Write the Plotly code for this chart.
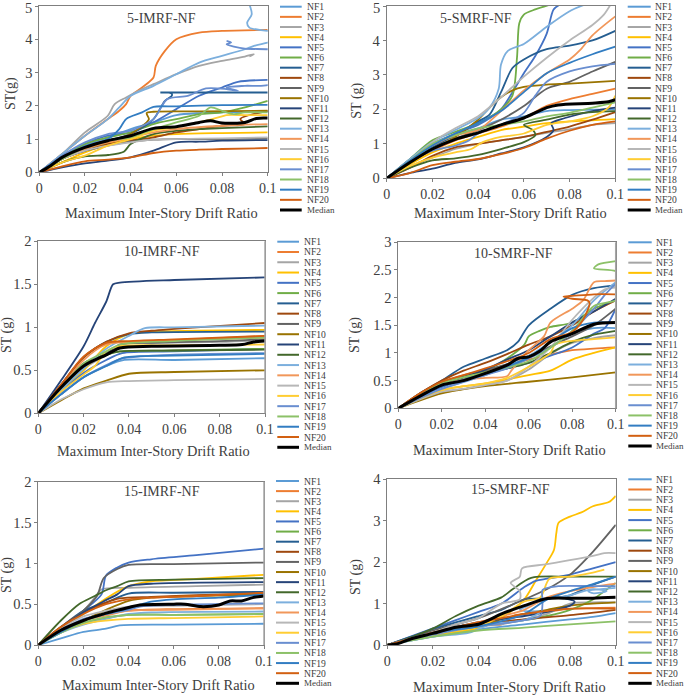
import plotly.graph_objects as go

W, H = 685, 695
NAMES = [f"NF{i}" for i in range(1, 21)] + ["Median"]
COLORS = ["#5B9BD5", "#ED7D31", "#A5A5A5", "#FFC000", "#4472C4", "#70AD47", "#255E91",
          "#9E480E", "#636363", "#997300", "#264478", "#43682B", "#7CAFDD", "#F1975A",
          "#B7B7B7", "#FFCD33", "#698ED0", "#8CC168", "#327DC2", "#D26012", "#000000"]

# ---------- 5-IMRF-NF ----------
P1_NF1 = [[0,0],[.01,.45],[.02,.8],[.03,1.05],[.04,1.3],[.05,1.5],[.06,1.72],[.07,1.78],[.08,1.8],[.1,1.82]]
P1_NF2 = [[0,0],[.01,.55],[.02,1.1],[.03,1.6],[.035,1.85],[.038,2.05],[.04,2.3],[.045,2.55],[.05,2.85],[.051,3.2],[.055,3.65],[.06,4.0],[.07,4.2],[.08,4.25],[.1,4.28]]
P1_NF3 = [[0,0],[.01,.55],[.02,1.2],[.03,1.7],[.033,2.05],[.038,2.25],[.045,2.5],[.05,2.65],[.06,2.95],[.07,3.2],[.08,3.35],[.09,3.48],[.094,3.55],[.092,3.48]]
P1_NF4 = [[0,0],[.01,.3],[.02,.6],[.03,.85],[.04,1.0],[.05,1.1],[.06,1.15],[.08,1.18],[.1,1.2]]
P1_NF5 = [[0,0],[.01,.5],[.02,.85],[.03,1.1],[.04,1.2],[.05,1.5],[.06,1.9],[.07,2.3],[.08,2.55],[.087,2.72],[.1,2.78]]
P1_NF6 = [[0,0],[.01,.45],[.02,.85],[.03,1.05],[.04,1.2],[.05,1.45],[.06,1.6],[.07,1.75],[.08,1.8],[.09,1.95],[.1,2.15]]
P1_NF7 = [[0,0],[.01,.45],[.02,.75],[.03,.95],[.04,1.15],[.05,1.6],[.055,2.15],[.058,2.3],[.058,2.36],[.056,2.4],[.053,2.4],[.07,2.4],[.1,2.4]]
P1_NF8 = [[0,0],[.01,.4],[.02,.65],[.03,.85],[.04,.95],[.05,1.05],[.06,1.2],[.07,1.3],[.08,1.4],[.09,1.45],[.088,1.6],[.1,1.85]]
P1_NF9 = [[0,0],[.01,.4],[.02,.65],[.03,.8],[.04,.92],[.05,.98],[.06,1.0],[.08,1.0],[.1,1.02]]
P1_NF10 = [[0,0],[.01,.4],[.02,.7],[.03,.9],[.04,1.15],[.047,1.5],[.048,1.6],[.047,1.78],[.05,1.82],[.07,1.83],[.1,1.85]]
P1_NF11 = [[0,0],[.01,.15],[.02,.27],[.03,.35],[.04,.45],[.05,.65],[.06,.9],[.07,.92],[.08,.95],[.1,.97]]
P1_NF12 = [[0,0],[.01,.3],[.02,.48],[.03,.52],[.037,.62],[.04,.85],[.05,1.15],[.06,1.25],[.07,1.3],[.08,1.33],[.1,1.38]]
P1_NF13 = [[0,0],[.01,.55],[.02,1.1],[.03,1.6],[.035,1.95],[.04,2.3],[.05,2.6],[.06,2.95],[.07,3.3],[.08,3.5],[.09,3.7],[.094,3.8],[.1,3.9],[.11,4.1],[.1,4.25],[.092,4.35],[.091,4.5],[.093,4.75],[.092,5.05]]
P1_NF14 = [[0,0],[.01,.4],[.02,.7],[.03,.9],[.04,1.05],[.05,1.2],[.06,1.3],[.08,1.4],[.1,1.45]]
P1_NF15 = [[0,0],[.01,.4],[.02,.65],[.03,.8],[.04,.9],[.05,.98],[.06,1.0],[.08,1.02],[.1,1.05]]
P1_NF16 = [[0,0],[.01,.3],[.02,.5],[.03,.8],[.04,1.0],[.05,1.25],[.06,1.35],[.07,1.5],[.08,1.68],[.082,1.72],[.09,1.72],[.1,1.72]]
P1_NF17 = [[0,0],[.01,.5],[.02,.9],[.03,1.15],[.04,1.25],[.05,1.6],[.056,2.2],[.065,2.3],[.073,2.52],[.082,2.5],[.087,2.45],[.082,2.55],[.09,2.6],[.1,2.62],[.11,3.0],[.11,3.6],[.1,3.7],[.09,3.72],[.082,3.85],[.084,3.9],[.082,3.95]]
P1_NF18 = [[0,0],[.01,.4],[.02,.75],[.03,.95],[.04,1.05],[.05,1.3],[.06,1.5],[.07,1.7],[.075,1.95],[.08,1.85],[.085,1.75],[.09,1.8],[.1,1.8]]
P1_NF19 = [[0,0],[.01,.45],[.02,.78],[.03,1.0],[.035,1.3],[.038,1.6],[.045,1.8],[.05,1.97],[.06,1.98],[.08,2.02],[.1,2.03]]
P1_NF20 = [[0,0],[.01,.18],[.02,.33],[.03,.38],[.04,.45],[.05,.58],[.06,.65],[.07,.68],[.08,.7],[.1,.73]]
P1_Median = [[0,0],[.005,.2],[.01,.45],[.02,.75],[.03,.95],[.04,1.1],[.05,1.32],[.06,1.37],[.07,1.5],[.075,1.55],[.08,1.48],[.09,1.5],[.095,1.62],[.1,1.63]]

# ---------- 5-SMRF-NF ----------
P2_NF1 = [[0,0],[.01,.5],[.02,.95],[.03,1.25],[.04,1.45],[.05,1.7],[.06,1.8],[.07,1.95],[.08,1.98],[.1,2.0]]
P2_NF2 = [[0,0],[.01,.45],[.02,.8],[.03,1.1],[.04,1.3],[.05,1.5],[.06,1.75],[.07,2.1],[.08,2.3],[.09,2.45],[.1,2.6]]
P2_NF3 = [[0,0],[.01,.35],[.02,.6],[.03,.85],[.04,1.0],[.05,1.1],[.06,1.2],[.07,1.32],[.08,1.42],[.09,1.55],[.1,1.6]]
P2_NF4 = [[0,0],[.01,.4],[.02,.75],[.03,1.0],[.04,1.2],[.05,1.4],[.06,1.5],[.07,1.6],[.08,1.65],[.1,1.72]]
P2_NF5 = [[0,0],[.01,.55],[.02,1.0],[.03,1.3],[.04,1.55],[.05,2.0],[.055,2.5],[.06,3.05],[.065,3.55],[.07,4.2],[.073,4.9],[.076,5.05]]
P2_NF6 = [[0,0],[.01,.55],[.02,1.1],[.03,1.35],[.04,1.6],[.05,2.0],[.055,2.4],[.057,3.5],[.058,4.5],[.06,4.75],[.065,4.9],[.072,5.05]]
P2_NF7 = [[0,0],[.01,.5],[.02,.9],[.03,1.25],[.04,1.65],[.045,1.85],[.05,2.5],[.055,3.2],[.06,3.45],[.07,3.75],[.08,3.85],[.09,4.0],[.1,4.28]]
P2_NF8 = [[0,0],[.01,.3],[.02,.65],[.03,.9],[.04,1.0],[.05,1.1],[.06,1.2],[.07,1.35],[.08,1.5],[.09,1.7],[.1,1.92]]
P2_NF9 = [[0,0],[.01,.45],[.02,.85],[.03,1.15],[.04,1.4],[.05,1.7],[.06,2.1],[.07,2.6],[.08,2.8],[.09,3.1],[.1,3.38]]
P2_NF10 = [[0,0],[.01,.45],[.02,.85],[.03,1.2],[.04,1.7],[.045,2.05],[.05,2.35],[.055,2.55],[.06,2.65],[.07,2.72],[.08,2.75],[.1,2.83]]
P2_NF11 = [[0,0],[.01,.15],[.02,.28],[.03,.45],[.04,.55],[.05,.72],[.06,.9],[.07,1.2],[.073,1.4],[.072,1.6],[.078,1.75],[.09,1.95],[.1,2.05]]
P2_NF12 = [[0,0],[.01,.3],[.02,.52],[.03,.58],[.04,.68],[.05,.85],[.06,1.05],[.065,1.25],[.064,1.4],[.06,1.55],[.07,1.7],[.08,1.85],[.09,1.92],[.1,1.95]]
P2_NF13 = [[0,0],[.01,.55],[.02,1.05],[.03,1.4],[.04,1.75],[.045,2.05],[.049,2.6],[.05,3.3],[.053,3.7],[.06,3.9],[.07,4.4],[.08,4.85],[.087,5.05]]
P2_NF14 = [[0,0],[.01,.5],[.02,.95],[.03,1.25],[.04,1.4],[.05,1.95],[.06,2.55],[.07,3.05],[.08,3.45],[.085,3.75],[.09,4.15],[.1,4.7]]
P2_NF15 = [[0,0],[.01,.5],[.02,1.05],[.03,1.45],[.04,1.8],[.05,2.35],[.06,2.95],[.07,3.5],[.08,4.0],[.09,4.45],[.095,4.75],[.098,5.05]]
P2_NF16 = [[0,0],[.01,.35],[.02,.6],[.03,.75],[.037,.85],[.042,1.05],[.05,1.2],[.06,1.3],[.07,1.55],[.08,1.65],[.09,1.8],[.097,2.05],[.1,2.4]]
P2_NF17 = [[0,0],[.01,.5],[.02,.8],[.03,.95],[.036,1.1],[.04,1.3],[.05,1.55],[.06,1.9],[.065,2.4],[.07,2.8],[.08,3.1],[.09,3.25],[.1,3.32]]
P2_NF18 = [[0,0],[.01,.5],[.02,1.0],[.03,1.25],[.04,1.45],[.05,1.55],[.06,1.65],[.07,1.8],[.08,1.9],[.09,2.05],[.1,2.2]]
P2_NF19 = [[0,0],[.01,.5],[.02,.95],[.03,1.3],[.04,1.6],[.05,1.95],[.06,2.5],[.07,3.05],[.08,3.35],[.09,3.6],[.1,3.82]]
P2_NF20 = [[0,0],[.01,.15],[.02,.38],[.03,.48],[.04,.56],[.05,.7],[.06,.88],[.07,1.15],[.08,1.38],[.09,1.55],[.1,1.65]]
P2_Median = [[0,0],[.01,.45],[.02,.85],[.03,1.13],[.04,1.32],[.05,1.55],[.06,1.75],[.07,2.05],[.075,2.13],[.09,2.18],[.097,2.22],[.1,2.28]]

# ---------- 10-IMRF-NF ----------
P3_NF1 = [[0,0],[.01,.22],[.02,.42],[.03,.55],[.038,.62],[.06,.62],[.1,.64]]
P3_NF2 = [[0,0],[.01,.32],[.02,.65],[.03,.82],[.04,.83],[.06,.85],[.1,.9]]
P3_NF3 = [[0,0],[.01,.27],[.02,.52],[.03,.68],[.036,.8],[.05,.82],[.08,.83],[.1,.85]]
P3_NF4 = [[0,0],[.01,.27],[.02,.5],[.03,.78],[.04,.92],[.05,.95],[.07,.96],[.1,.97]]
P3_NF5 = [[0,0],[.01,.25],[.02,.47],[.03,.62],[.037,.7],[.06,.72],[.1,.75]]
P3_NF6 = [[0,0],[.01,.27],[.02,.55],[.03,.68],[.036,.72],[.06,.73],[.1,.75]]
P3_NF7 = [[0,0],[.01,.33],[.02,.65],[.03,.83],[.04,.92],[.05,.94],[.1,.95]]
P3_NF8 = [[0,0],[.01,.33],[.02,.65],[.03,.83],[.04,.93],[.05,.96],[.07,1.0],[.1,1.05]]
P3_NF9 = [[0,0],[.01,.3],[.02,.55],[.03,.7],[.036,.8],[.05,.82],[.08,.84],[.1,.86]]
P3_NF10 = [[0,0],[.01,.15],[.02,.29],[.03,.38],[.04,.46],[.06,.48],[.1,.5]]
P3_NF11 = [[0,0],[.01,.38],[.02,.78],[.025,1.05],[.03,1.3],[.033,1.5],[.036,1.52],[.06,1.55],[.1,1.58]]
P3_NF12 = [[0,0],[.01,.3],[.02,.58],[.03,.68],[.036,.72],[.06,.73],[.1,.74]]
P3_NF13 = [[0,0],[.01,.27],[.02,.52],[.03,.75],[.04,.9],[.047,.99],[.06,1.0],[.1,1.02]]
P3_NF14 = [[0,0],[.01,.3],[.02,.62],[.03,.8],[.04,.83],[.06,.85],[.1,.88]]
P3_NF15 = [[0,0],[.01,.16],[.02,.28],[.03,.36],[.04,.375],[.06,.385],[.1,.4]]
P3_NF16 = [[0,0],[.01,.25],[.02,.45],[.025,.55],[.03,.72],[.036,.78],[.06,.79],[.1,.8]]
P3_NF17 = [[0,0],[.01,.22],[.02,.42],[.03,.56],[.036,.63],[.05,.67],[.1,.7]]
P3_NF18 = [[0,0],[.01,.3],[.02,.58],[.03,.72],[.036,.8],[.06,.84],[.1,.88]]
P3_NF19 = [[0,0],[.01,.22],[.02,.42],[.03,.55],[.038,.65],[.06,.67],[.1,.69]]
P3_NF20 = [[0,0],[.01,.33],[.02,.66],[.03,.82],[.04,.84],[.06,.86],[.1,.9]]
P3_Median = [[0,0],[.01,.3],[.02,.55],[.03,.68],[.036,.76],[.05,.78],[.08,.79],[.09,.8],[.095,.83],[.1,.84]]

# ---------- 10-SMRF-NF ----------
P4_NF1 = [[0,0],[.02,.4],[.04,.65],[.06,.95],[.07,1.1],[.08,1.35],[.09,1.45],[.1,1.45]]
P4_NF2 = [[0,0],[.01,.25],[.02,.45],[.03,.6],[.04,.68],[.05,.78],[.06,.88],[.07,.97],[.08,1.05],[.09,1.08],[.1,1.1]]
P4_NF3 = [[0,0],[.01,.17],[.02,.28],[.03,.35],[.04,.42],[.05,.5],[.06,.7],[.07,.98],[.08,1.18],[.09,1.27],[.1,1.32]]
P4_NF4 = [[0,0],[.02,.33],[.03,.4],[.04,.45],[.05,.52],[.06,.6],[.07,.68],[.08,.88],[.09,1.0],[.1,1.1]]
P4_NF5 = [[0,0],[.02,.38],[.04,.62],[.06,.82],[.07,.95],[.08,1.1],[.09,1.35],[.095,1.45],[.1,1.8]]
P4_NF6 = [[0,0],[.02,.45],[.04,.68],[.05,.9],[.058,1.15],[.06,1.3],[.065,1.4],[.07,1.47],[.08,1.55],[.09,1.8],[.1,1.95]]
P4_NF7 = [[0,0],[.01,.27],[.02,.5],[.03,.75],[.04,.9],[.05,1.05],[.055,1.2],[.06,1.5],[.07,1.8],[.08,2.05],[.09,2.17],[.1,2.22]]
P4_NF8 = [[0,0],[.01,.27],[.02,.5],[.03,.68],[.04,.82],[.05,.98],[.06,1.15],[.07,1.3],[.08,1.5],[.09,1.75],[.1,1.95]]
P4_NF9 = [[0,0],[.02,.42],[.04,.68],[.06,.92],[.07,1.12],[.08,1.3],[.09,1.5],[.1,1.8]]
P4_NF10 = [[0,0],[.02,.27],[.04,.4],[.06,.48],[.08,.56],[.1,.65]]
P4_NF11 = [[0,0],[.02,.42],[.04,.7],[.05,.88],[.06,1.05],[.07,1.3],[.08,1.55],[.09,1.75],[.1,1.98]]
P4_NF12 = [[0,0],[.02,.45],[.04,.65],[.05,.72],[.06,.82],[.07,1.0],[.08,1.2],[.09,1.33],[.1,1.4]]
P4_NF13 = [[0,0],[.02,.35],[.04,.6],[.06,.95],[.07,1.2],[.08,1.5],[.09,1.95],[.1,2.28]]
P4_NF14 = [[0,0],[.01,.25],[.02,.42],[.03,.52],[.04,.55],[.05,.58],[.052,.68],[.06,1.05],[.067,1.3],[.07,1.55],[.08,1.8],[.085,1.95],[.09,2.28],[.095,2.3],[.1,2.31]]
P4_NF15 = [[0,0],[.02,.3],[.03,.35],[.04,.42],[.05,.5],[.06,.75],[.07,1.1],[.08,1.6],[.09,2.0],[.095,2.15],[.1,2.18]]
P4_NF16 = [[0,0],[.02,.33],[.04,.45],[.05,.55],[.06,.75],[.07,1.0],[.072,1.15],[.08,1.22],[.09,1.25],[.1,1.28]]
P4_NF17 = [[0,0],[.02,.35],[.04,.6],[.05,.72],[.06,.9],[.07,1.1],[.08,1.4],[.09,1.8],[.095,2.05],[.1,2.25]]
P4_NF18 = [[0,0],[.02,.45],[.04,.65],[.06,.85],[.07,1.1],[.08,1.4],[.09,1.85],[.1,1.95],[.11,2.3],[.1,2.48],[.09,2.53],[.092,2.6],[.1,2.66]]
P4_NF19 = [[0,0],[.02,.4],[.04,.62],[.06,.92],[.07,1.2],[.08,1.45],[.09,1.55],[.1,1.55]]
P4_NF20 = [[0,0],[.01,.27],[.02,.48],[.03,.6],[.04,.72],[.05,.85],[.06,1.0],[.07,1.25],[.08,1.38],[.085,1.6],[.088,1.9],[.087,1.95],[.08,1.98],[.076,2.02],[.08,2.03],[.09,2.06],[.1,2.06]]
P4_Median = [[0,0],[.01,.22],[.02,.42],[.03,.5],[.04,.63],[.05,.78],[.055,.9],[.06,.93],[.065,1.03],[.07,1.2],[.08,1.35],[.09,1.52],[.1,1.55]]

# ---------- 15-IMRF-NF ----------
P5_NF1 = [[0,0],[.01,.08],[.02,.16],[.03,.2],[.036,.24],[.06,.25],[.1,.26]]
P5_NF2 = [[0,0],[.01,.17],[.02,.3],[.03,.37],[.04,.42],[.06,.44],[.1,.45]]
P5_NF3 = [[0,0],[.01,.2],[.02,.42],[.025,.58],[.028,.68],[.04,.7],[.07,.72],[.1,.74]]
P5_NF4 = [[0,0],[.01,.2],[.02,.38],[.03,.57],[.04,.72],[.05,.78],[.07,.81],[.1,.86]]
P5_NF5 = [[0,0],[.01,.2],[.02,.42],[.028,.62],[.03,.85],[.035,.95],[.04,1.01],[.05,1.05],[.07,1.1],[.1,1.18]]
P5_NF6 = [[0,0],[.01,.15],[.02,.27],[.03,.33],[.04,.37],[.06,.37],[.1,.38]]
P5_NF7 = [[0,0],[.01,.22],[.02,.42],[.03,.52],[.04,.63],[.06,.64],[.1,.65]]
P5_NF8 = [[0,0],[.01,.22],[.02,.4],[.03,.52],[.036,.57],[.05,.59],[.07,.61],[.1,.63]]
P5_NF9 = [[0,0],[.01,.2],[.02,.42],[.026,.6],[.029,.82],[.035,.93],[.04,.98],[.06,.99],[.1,1.01]]
P5_NF10 = [[0,0],[.01,.18],[.02,.3],[.03,.43],[.04,.54],[.05,.58],[.07,.6],[.1,.62]]
P5_NF11 = [[0,0],[.01,.2],[.02,.4],[.03,.55],[.035,.62],[.04,.72],[.05,.75],[.1,.77]]
P5_NF12 = [[0,0],[.01,.3],[.018,.5],[.025,.6],[.03,.67],[.035,.72],[.04,.78],[.06,.8],[.1,.82]]
P5_NF13 = [[0,0],[.01,.15],[.02,.25],[.03,.32],[.04,.38],[.05,.4],[.1,.41]]
P5_NF14 = [[0,0],[.01,.17],[.02,.3],[.03,.36],[.04,.42],[.06,.43],[.1,.45]]
P5_NF15 = [[0,0],[.01,.2],[.02,.35],[.03,.42],[.04,.47],[.06,.48],[.1,.5]]
P5_NF16 = [[0,0],[.01,.16],[.02,.26],[.03,.3],[.04,.32],[.06,.33],[.1,.35]]
P5_NF17 = [[0,0],[.01,.18],[.02,.32],[.03,.38],[.04,.43],[.045,.47],[.06,.49],[.1,.51]]
P5_NF18 = [[0,0],[.01,.15],[.02,.27],[.03,.34],[.04,.37],[.06,.37],[.1,.38]]
P5_NF19 = [[0,0],[.02,.3],[.03,.38],[.04,.45],[.05,.53],[.06,.56],[.08,.58],[.1,.62]]
P5_NF20 = [[0,0],[.01,.22],[.02,.38],[.03,.5],[.04,.56],[.05,.58],[.07,.6],[.1,.64]]
P5_Median = [[0,0],[.01,.18],[.02,.3],[.03,.39],[.04,.46],[.045,.49],[.06,.5],[.065,.5],[.072,.47],[.08,.49],[.085,.54],[.09,.54],[.095,.58],[.1,.6]]

# ---------- 15-SMRF-NF ----------
P6_NF1 = [[0,0],[.02,.2],[.04,.38],[.06,.5],[.08,.62],[.09,.68],[.1,.77]]
P6_NF2 = [[0,0],[.02,.3],[.04,.5],[.05,.5],[.055,.7],[.06,.75],[.07,.8],[.08,.87],[.1,.9]]
P6_NF3 = [[0,0],[.02,.22],[.04,.45],[.05,.5],[.06,.62],[.07,.75],[.08,1.0],[.09,1.03],[.1,1.03]]
P6_NF4 = [[0,0],[.02,.25],[.04,.4],[.05,.65],[.055,.85],[.06,1.1],[.065,1.55],[.07,2.0],[.073,2.3],[.074,2.7],[.075,2.95],[.08,3.1],[.085,3.2],[.09,3.35],[.097,3.45],[.1,3.6]]
P6_NF5 = [[0,0],[.02,.4],[.03,.6],[.04,.8],[.05,1.0],[.06,1.4],[.065,1.55],[.07,1.6],[.08,1.7],[.09,1.85],[.1,2.0]]
P6_NF6 = [[0,0],[.02,.25],[.04,.45],[.06,.6],[.07,.7],[.08,.85],[.09,1.1],[.095,1.3],[.1,1.5]]
P6_NF7 = [[0,0],[.02,.38],[.04,.7],[.05,.85],[.06,1.1],[.07,1.12],[.08,1.2],[.09,1.45],[.1,1.65]]
P6_NF8 = [[0,0],[.02,.3],[.04,.5],[.06,.62],[.08,.72],[.1,.85]]
P6_NF9 = [[0,0],[.02,.35],[.04,.65],[.06,1.1],[.07,1.35],[.08,1.7],[.09,2.25],[.1,2.9]]
P6_NF10 = [[0,0],[.02,.28],[.04,.48],[.05,.62],[.06,.75],[.07,.85],[.08,.95],[.09,1.0],[.1,1.03]]
P6_NF11 = [[0,0],[.02,.3],[.04,.55],[.06,.7],[.07,.8],[.08,.95],[.082,1.05],[.078,1.12]]
P6_NF12 = [[0,0],[.01,.18],[.02,.4],[.03,.7],[.04,.95],[.05,1.15],[.055,1.35],[.063,1.62],[.08,1.65],[.1,1.65]]
P6_NF13 = [[0,0],[.02,.2],[.036,.3],[.045,.5],[.06,.6],[.067,.8],[.06,.82],[.058,.85],[.07,1.1],[.08,1.2],[.09,1.35],[.096,1.3],[.09,1.25],[.088,1.3],[.1,1.38]]
P6_NF14 = [[0,0],[.02,.3],[.04,.55],[.05,.7],[.06,.85],[.07,1.15],[.08,1.3],[.09,1.4],[.1,1.48]]
P6_NF15 = [[0,0],[.02,.3],[.03,.5],[.04,.65],[.05,1.0],[.058,1.1],[.058,1.3],[.054,1.5],[.058,1.65],[.059,1.85],[.07,1.95],[.09,2.15],[.095,2.22],[.1,2.22]]
P6_NF16 = [[0,0],[.02,.25],[.04,.45],[.05,.7],[.06,1.05],[.067,1.15],[.071,1.6],[.08,1.65],[.09,1.75],[.095,1.82]]
P6_NF17 = [[0,0],[.02,.25],[.04,.45],[.055,.55],[.06,.6],[.067,.7],[.068,1.05],[.068,1.33],[.075,1.42],[.09,1.42],[.1,1.42]]
P6_NF18 = [[0,0],[.02,.2],[.04,.35],[.06,.42],[.08,.5],[.1,.57]]
P6_NF19 = [[0,0],[.02,.3],[.04,.45],[.06,.75],[.07,1.1],[.08,1.3],[.09,1.47],[.1,1.65]]
P6_NF20 = [[0,0],[.02,.3],[.04,.55],[.05,.65],[.06,.75],[.07,.82],[.08,.88],[.1,.88]]
P6_Median = [[0,0],[.005,.04],[.01,.14],[.02,.28],[.03,.43],[.04,.5],[.045,.62],[.05,.75],[.06,.95],[.07,1.12],[.08,1.13],[.09,1.13],[.1,1.15]]

X_TICKS = [0, .02, .04, .06, .08, .1]
X_LABELS = ["0", "0.02", "0.04", "0.06", "0.08", "0.1"]
PANELS = [
    dict(tag="P1", title="5-IMRF-NF", ylab="ST(g)", ymax=5, yticks=[0,1,2,3,4,5], ylabels=["0","1","2","3","4",""], toplabel="5",
         box=(39.3,267.7,6,172.3), tp=(161,18), xt=(161.7,213), yt=(11,94), leg=(280,301.7,305,6.7,210), rail=False),
    dict(tag="P2", title="5-SMRF-NF", ylab="ST (g)", ymax=5, yticks=[0,1,2,3,4,5], ylabels=["0","1","2","3","4",""], toplabel="5",
         box=(386.7,615.3,6,178.3), tp=(476,18), xt=(510.5,213), yt=(356.7,101), leg=(627.7,650.7,653.3,6.7,210), rail=False),
    dict(tag="P3", title="10-IMRF-NF", ylab="ST (g)", ymax=2, yticks=[0,.5,1,1.5,2], ylabels=["0","0.5","1","1.5","2"],
         box=(38.3,265,241.3,413.3), tp=(162,251.7), xt=(153.7,450.7), yt=(7,335), leg=(277.3,299,302,241.7,447.3), rail=True),
    dict(tag="P4", title="10-SMRF-NF", ylab="ST (g)", ymax=3, yticks=[0,.5,1,1.5,2,2.5,3], ylabels=["0","0.5","1","1.5","2","2.5","3"],
         box=(398.3,615.7,242.3,408.3), tp=(513.8,253), xt=(509.7,450), yt=(355,335), leg=(628.3,651.7,653.7,242.3,446), rail=True),
    dict(tag="P5", title="15-IMRF-NF", ylab="ST (g)", ymax=2, yticks=[0,.5,1,1.5,2], ylabels=["0","0.5","1","1.5","2"],
         box=(38.3,264,481.7,645), tp=(161.8,491.7), xt=(158.7,685), yt=(7,575), leg=(276,299,302,481,683.3), rail=True),
    dict(tag="P6", title="15-SMRF-NF", ylab="ST (g)", ymax=4, yticks=[0,1,2,3,4], ylabels=["0","1","2","3","4"],
         box=(387.3,615.7,479.3,645), tp=(510.5,490), xt=(509,686.7), yt=(356,577), leg=(628.3,651.7,653.7,479.3,683.3), rail=False),
]

SERIF = "Liberation Serif"
TXT = "#404040"
AXIS = "#7F7F7F"
fig = go.Figure()
layout = {}
annotations, shapes = [], []


def note(x, y, text, size, anchor="center", angle=0):
    annotations.append(dict(xref="paper", yref="paper", x=x / W, y=1 - y / H, text=text, showarrow=False,
                            xanchor=anchor, yanchor="middle", textangle=angle,
                            font=dict(family=SERIF, size=size, color=TXT)))


for i, p in enumerate(PANELS, start=1):
    xn, yn = f"x{i}", f"y{i}"
    for name, color in zip(NAMES, COLORS):
        pts = globals()[f"{p['tag']}_{name}"]
        median = name == "Median"
        fig.add_trace(go.Scatter(x=[a for a, _ in pts], y=[b for _, b in pts], mode="lines", name=name,
                                 xaxis=xn, yaxis=yn, showlegend=False,
                                 line=dict(color=color, width=3 if median else 1.8, shape="spline", smoothing=0.8)))
    L, R, T, B = p["box"]
    layout[f"xaxis{i}"] = dict(domain=[L / W, R / W], range=[0, .1], anchor=yn, tickvals=X_TICKS, ticktext=X_LABELS,
                               automargin=False, showgrid=False, zeroline=False, showline=True, mirror=True,
                               linecolor=AXIS, linewidth=1, ticks="outside", ticklen=3, tickcolor=AXIS,
                               tickfont=dict(family=SERIF, size=14, color=TXT))
    layout[f"yaxis{i}"] = dict(domain=[1 - B / H, 1 - T / H], range=[0, p["ymax"]], anchor=xn, tickvals=p["yticks"],
                               ticktext=p["ylabels"], automargin=False, showgrid=False, zeroline=False, showline=True,
                               mirror=True, linecolor=AXIS, linewidth=1, ticks="outside", ticklen=3, tickcolor=AXIS,
                               tickfont=dict(family=SERIF, size=14.5, color=TXT))
    if p["rail"]:
        shapes.append(dict(type="line", xref="paper", yref="paper", x0=R / W, x1=R / W, y0=1 - T / H, y1=1 - B / H,
                           line=dict(color="#A6A6A6", width=1.5)))
    note(*p["tp"], p["title"], 14)
    note(*p["xt"], "Maximum Inter-Story Drift Ratio", 14.4)
    note(*p["yt"], p["ylab"], 14, angle=-90)
    if "toplabel" in p:
        note(L - 5, T + 1.5, p["toplabel"], 14.5, anchor="right")
    x0, x1, xtext, first, last = p["leg"]
    step = (last - first) / 20
    for k, (name, color) in enumerate(zip(NAMES, COLORS)):
        y = first + k * step
        median = name == "Median"
        shapes.append(dict(type="line", xref="paper", yref="paper", x0=x0 / W, x1=x1 / W, y0=1 - y / H, y1=1 - y / H,
                           line=dict(color=color, width=3 if median else 2)))
        note(xtext, y, name, 9 if median else 9.6, anchor="left")

fig.update_layout(width=W, height=H, margin=dict(l=0, r=0, t=0, b=0), paper_bgcolor="white", plot_bgcolor="white",
                  showlegend=False, annotations=annotations, shapes=shapes, **layout)
fig.write_html("out.html", config={"displayModeBar": False},
               post_script="document.body.style.margin='0';document.documentElement.style.overflow='hidden';")
